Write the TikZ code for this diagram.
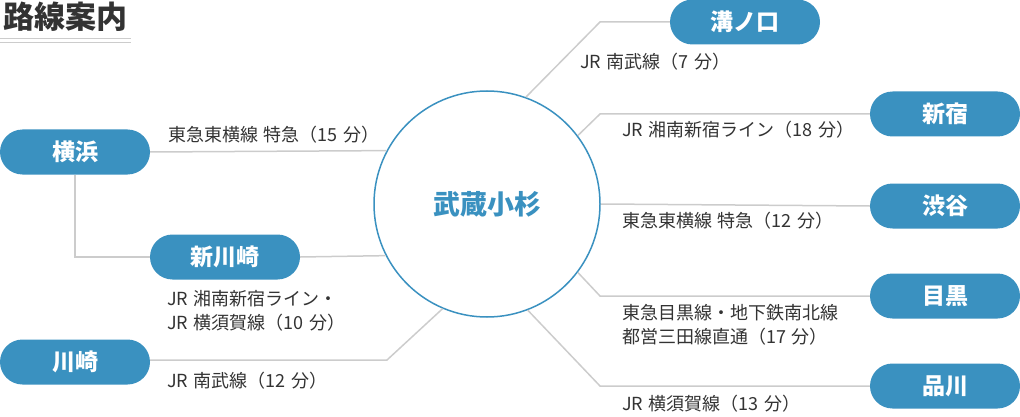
\documentclass[tikz,border=0pt]{standalone}
\usepackage{fontspec}
\setmainfont{Noto Sans CJK JP}
\newfontfamily\labfont[WordSpace=1.4]{Noto Sans CJK JP}
\usepackage{tikz}
\usepackage{xcolor}
\usetikzlibrary{positioning,calc}
\definecolor{stnblue}{RGB}{58,145,192}
\definecolor{rtgray}{RGB}{204,204,204}
\definecolor{txtgray}{RGB}{51,51,51}
\tikzset{
  stn/.style={rectangle, rounded corners=22.5pt, fill=stnblue, text=white,
    minimum width=150pt, minimum height=45pt, inner sep=0pt,
    font=\fontsize{23}{23}\selectfont\bfseries},
  hubnode/.style={circle, draw=stnblue, line width=1.5pt, minimum size=226pt,
    inner sep=0pt, text=stnblue, font=\fontsize{27}{27}\selectfont\bfseries},
  rt/.style={draw=rtgray, line width=1.5pt},
  rtlab/.style={anchor=west, inner sep=0pt, text=txtgray, align=left,
    font=\labfont\fontsize{18}{24.5}\selectfont}
}
\newcommand{\stnode}[3]{\node [stn] (#1) at (#2) {#3}}
\newcommand{\rtnote}[3]{\node [rtlab] (#1) at (#2) {#3}}

\begin{document}
\begin{tikzpicture}[x=1pt,y=-1pt]
\useasboundingbox (0,0) rectangle (1020,417);

\node [anchor=west, inner sep=0pt, text=txtgray,
  font=\fontsize{31}{31}\selectfont\bfseries] (title) at (3,17) {路線案内};
\draw[rtgray, line width=1pt] (0,39) -- (131,39);
\draw[rtgray, line width=1pt] (0,42.5) -- (131,42.5);

\node [hubnode] (hub) at (487,204) {武蔵小杉};

\stnode{YOKO}{75,152}{横浜};
\stnode{SKAW}{225,257}{新川崎};
\stnode{KAWA}{75,362}{川崎};
\stnode{MIZO}{745,22}{溝ノ口};
\stnode{SHJK}{945,114}{新宿};
\stnode{SHBY}{945,206}{渋谷};
\stnode{MEGU}{945,296}{目黒};
\stnode{SHNG}{945,386}{品川};

\coordinate (bendL) at (387,0);
\coordinate (bendR) at (600,0);

% left side
\draw[rt] (YOKO.east) -- (hub.152.6);
\draw[rt] (YOKO.south) |- (SKAW.west);
\draw[rt] (SKAW.east) -- (hub.207.9);
\draw[rt] ([yshift=2pt]KAWA.east) -- ([yshift=2pt]KAWA.east -| bendL) -- (hub.247);

% right side
\draw[rt] (MIZO.west) -- (MIZO.west -| bendR) -- (hub.70.4);
\draw[rt] (SHJK.west) -- (SHJK.west -| bendR) -- (hub.37.2);
\draw[rt] (SHBY.west) -- (hub.east);
\draw[rt] (MEGU.west) -- (MEGU.west -| bendR) -- (hub.-37.2);
\draw[rt] (SHNG.west) -- (SHNG.west -| bendR) -- (hub.-69.8);

\rtnote{tY}{168,135}{東急東横線 特急（15 分）};
\rtnote{tS}{167,311}{JR 湘南新宿ライン・\\JR 横須賀線（10 分）};
\rtnote{tK}{167,381}{JR 南武線（12 分）};
\rtnote{tM}{580,62}{JR 南武線（7 分）};
\rtnote{tJ}{622,130}{JR 湘南新宿ライン（18 分）};
\rtnote{tB}{622,221}{東急東横線 特急（12 分）};
\rtnote{tG}{622,325}{東急目黒線・地下鉄南北線\\都営三田線直通（17 分）};
\rtnote{tN}{622,404}{JR 横須賀線（13 分）};

\end{tikzpicture}
\end{document}
